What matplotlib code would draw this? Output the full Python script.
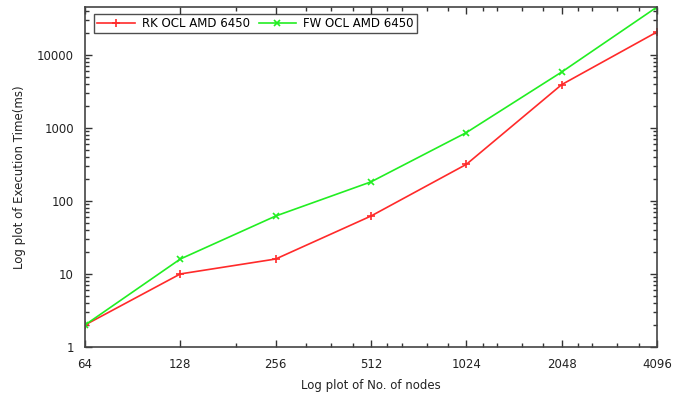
import numpy as np
import matplotlib.pyplot as plt
from matplotlib.ticker import FixedLocator, NullFormatter, LogLocator

# data
nodes = [64, 128, 256, 512, 1024, 2048, 4096]
rk_ocl = [2, 10, 16, 62, 316, 3900, 20500]
fw_ocl = [2, 16, 62, 182, 860, 5800, 45000]

x_minor = [192, 320, 384, 448, 576, 640, 768, 896,
           1152, 1280, 1536, 1792, 2304, 2560, 3072, 3584]
y_major = [1, 10, 100, 1000, 10000]

plt.rcParams['font.family'] = ['DejaVu Sans']
fig = plt.figure(figsize=(6.88, 4.0), dpi=100)
ax = fig.add_axes([0.1235, 0.1325, 0.8315, 0.85])

ax.plot(nodes, rk_ocl, color='#ff2a2a', lw=1.2, marker='+', ms=6, mew=1.2,
        label='RK OCL AMD 6450')
ax.plot(nodes, fw_ocl, color='#22ee22', lw=1.2, marker='x', ms=5, mew=1.2,
        label='FW OCL AMD 6450')

ax.set_xscale('log', base=2)
ax.set_yscale('log')
ax.set_xlim(64, 4096)
ax.set_ylim(1, 45000)

ax.xaxis.set_major_locator(FixedLocator(nodes))
ax.set_xticklabels([str(n) for n in nodes])
ax.xaxis.set_minor_locator(FixedLocator(x_minor))
ax.xaxis.set_minor_formatter(NullFormatter())
ax.yaxis.set_major_locator(FixedLocator(y_major))
ax.set_yticklabels([str(v) for v in y_major])
ax.yaxis.set_minor_locator(LogLocator(base=10, subs=np.arange(2, 10)))
ax.yaxis.set_minor_formatter(NullFormatter())

ax.tick_params(which='both', direction='in', top=True, right=True,
               colors='#333333', labelcolor='#222222', labelsize=8.5)
ax.tick_params(which='major', length=5, width=1, pad=8)
ax.tick_params(which='minor', length=3, width=1)
for s in ax.spines.values():
    s.set_color('#444444')
    s.set_linewidth(1.2)

ax.set_xlabel('Log plot of No. of nodes', fontsize=8.5, color='#222222', labelpad=6)
ax.set_ylabel('Log plot of Execution Time(ms)', fontsize=8.5, color='#222222', labelpad=8)

leg = ax.legend(loc='upper left', ncol=2, fontsize=8.5, frameon=True, fancybox=False,
                borderpad=0.25, handlelength=3.2, columnspacing=0.7, handletextpad=0.6,
                bbox_to_anchor=(0.0125, 0.985), borderaxespad=0.2)
leg.get_frame().set_edgecolor('#222222')
leg.get_frame().set_linewidth(1.0)

fig.savefig('out.png', dpi=100)
